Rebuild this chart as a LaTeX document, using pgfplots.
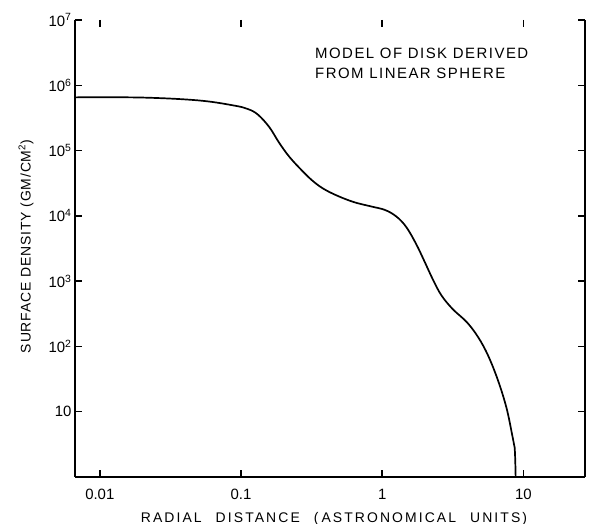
\documentclass[border=0pt]{standalone}
\usepackage{fontspec}
\setmainfont{Liberation Sans}
\newfontfamily\labfont[LetterSpace=15]{Liberation Sans}
\newfontfamily\ylabfont[LetterSpace=6]{Liberation Sans}
\newfontfamily\titfont[LetterSpace=10]{Liberation Sans}
\usepackage{pgfplots}
\usepackage{pgfplotstable}
\pgfplotsset{compat=1.18}

\pgfplotstableread{
x y
0.00667 653000
0.01995 648600
0.05012 586100
0.08913 489800
0.1122 431500
0.1318 354800
0.1585 229100
0.1862 131800
0.2188 81280
0.2630 52480
0.3162 35480
0.3802 26300
0.4786 20420
0.6310 16220
0.8318 13960
1.047 12300
1.259 9772
1.479 6761
1.738 3715
1.995 1995
2.291 1047
2.630 602.6
3.162 371.5
3.981 234.4
4.786 138
5.623 72.4
6.607 30.2
7.586 11.48
8.318 4.47
8.670 2.82
8.810 1.0
}\disk

\begin{document}
\begin{tikzpicture}
% ticks, labels and data (box axis, lines hidden)
\begin{axis}[
  name=main,
  xmode=log, ymode=log,
  scale only axis, width=510bp, height=457bp,
  xmin=0.00667, xmax=27.3, ymin=1, ymax=1e7,
  axis line style={draw=none},
  tick align=inside, major tick length=7bp,
  every tick/.style={black, line width=1.5bp},
  xminorticks=false, yminorticks=false,
  xtick={0.01,0.1,1,10}, xticklabels={0.01,0.1,1,10},
  ytick={10,100,1000,10000,100000,1000000,10000000},
  yticklabels={10,10\textsuperscript{2},10\textsuperscript{3},10\textsuperscript{4},10\textsuperscript{5},10\textsuperscript{6},10\textsuperscript{7}},
  ticklabel style={font=\fontsize{15}{17}\selectfont, black},
  xticklabel style={yshift=-9bp},
  clip mode=individual,
]
\addplot[black, line width=1.7bp, smooth, tension=0.6] table[x=x, y=y] {\disk};
\node[rotate=90, anchor=center, inner sep=0, font=\ylabfont\fontsize{14}{17}\selectfont]
  at ([xshift=-49bp, yshift=2bp]rel axis cs:0,0.5) {SURFACE DENSITY (GM/CM\textsuperscript{2})};
\node[anchor=north, inner sep=0, font=\labfont\fontsize{14}{17}\selectfont]
  at ([xshift=4bp, yshift=-35bp]rel axis cs:0.5,0) {RADIAL\hspace{14bp}DISTANCE\hspace{14bp}(\hspace{3bp}ASTRONOMICAL\hspace{14bp}UNITS)};
\node[anchor=north west, inner sep=0, align=left, font=\titfont\fontsize{15}{20}\selectfont]
  at (rel axis cs:0.4706,0.9387) {MODEL OF DISK DERIVED\\FROM LINEAR SPHERE};
\end{axis}
% axis lines: left, bottom, right (no top line)
\begin{axis}[
  xmode=log, ymode=log,
  scale only axis, width=510bp, height=457bp,
  xmin=0.00667, xmax=27.3, ymin=1, ymax=1e7,
  axis x line*=bottom, axis y line*=box,
  axis line style={line width=1.6bp, black},
  xtick=\empty, ytick=\empty,
  xminorticks=false, yminorticks=false,
]
\end{axis}
\pgfresetboundingbox
\path[use as bounding box] ([xshift=-75bp,yshift=-47bp]main.south west) rectangle ([xshift=5bp,yshift=20bp]main.north east);
\end{tikzpicture}
\end{document}
